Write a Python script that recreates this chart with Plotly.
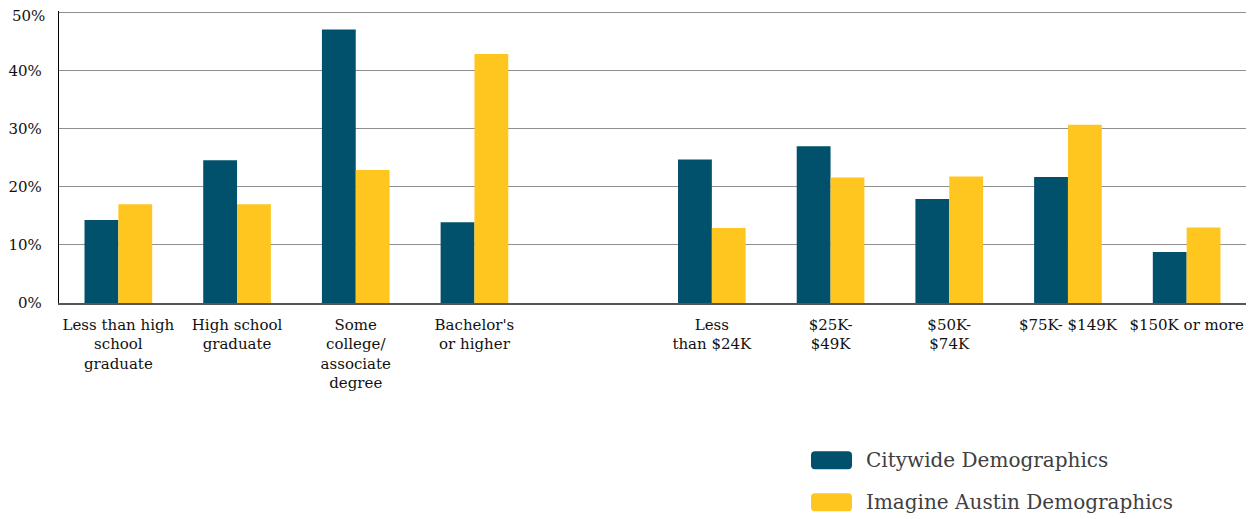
import plotly.graph_objects as go

categories = [
    "Less than high<br>school<br>graduate",
    "High school<br>graduate",
    "Some<br>college/<br>associate<br>degree",
    "Bachelor's<br>or higher",
    " ",
    "Less<br>than $24K",
    "$25K-<br>$49K",
    "$50K-<br>$74K",
    "$75K- $149K",
    "$150K or more",
]
citywide = [14.3, 24.6, 47.1, 13.9, None, 24.7, 27.0, 17.9, 21.7, 8.8]
imagine_austin = [17.0, 17.0, 22.9, 42.9, None, 12.9, 21.6, 21.8, 30.7, 13.0]
series_names = ["Citywide Demographics", "Imagine Austin Demographics"]
series_colors = ["#01506C", "#FFC61F"]
y_ticks = [0, 10, 20, 30, 40, 50]
y_tick_labels = [f"{v}%" for v in y_ticks]

FONT = "DejaVu Serif"
OFF = 8  # page body margin
Y_TOP = 50.3
PX_PER_UNIT = 290.2 / 50
W, H = 1250, 511
PW, PH = 1187, PX_PER_UNIT * Y_TOP
ML, MT = 59 - OFF, 302.7 - PH - OFF
MR, MB = W - ML - PW, H - MT - PH

fig = go.Figure()
for name, vals, col in zip(series_names, [citywide, imagine_austin], series_colors):
    fig.add_trace(go.Bar(x=categories, y=vals, name=name, marker_color=col,
                         marker_line_width=0, showlegend=False))

fig.update_layout(
    width=W, height=H,
    margin=dict(l=ML, r=MR, t=MT, b=MB, autoexpand=False),
    plot_bgcolor="white", paper_bgcolor="white",
    barmode="group", bargap=0.43, bargroupgap=0,
    font=dict(family=FONT, size=14, color="#111111"),
)
fig.update_xaxes(
    type="category", categoryorder="array", categoryarray=categories,
    showline=True, linecolor="#555555", linewidth=1.5,
    tickfont=dict(family=FONT, size=15, color="#111111"),
    ticks="", showgrid=False, automargin=False, ticklabelstandoff=7,
)
# the topmost tick label is drawn as an annotation nudged down so it stays inside the page
fig.update_yaxes(
    range=[0, Y_TOP], tickvals=y_ticks, ticktext=y_tick_labels[:-1] + [""],
    showgrid=True, gridcolor="#8f8f8f", gridwidth=1.3,
    showline=True, linecolor="#000000", linewidth=1.3,
    zeroline=False, ticks="", ticklabelstandoff=13,
    tickfont=dict(family=FONT, size=15, color="#111111"),
    automargin=False,
)
fig.add_annotation(xref="paper", yref="y", x=0, y=y_ticks[-1],
                   text=y_tick_labels[-1], showarrow=False,
                   xanchor="right", yanchor="middle", xshift=-13, yshift=-3,
                   borderpad=0, font=dict(family=FONT, size=15, color="#111111"))

def px_to_paper(px, py):
    return (px - OFF - ML) / PW, 1 - (py - OFF - MT) / PH

def rounded_rect_path(x0, y0, x1, y1, r):
    def p(x, y):
        X, Y = px_to_paper(x, y)
        return f"{X:.5f},{Y:.5f}"
    return (f"M {p(x0 + r, y0)} L {p(x1 - r, y0)} Q {p(x1, y0)} {p(x1, y0 + r)} "
            f"L {p(x1, y1 - r)} Q {p(x1, y1)} {p(x1 - r, y1)} "
            f"L {p(x0 + r, y1)} Q {p(x0, y1)} {p(x0, y1 - r)} "
            f"L {p(x0, y0 + r)} Q {p(x0, y0)} {p(x0 + r, y0)} Z")

# custom legend (page pixel positions)
legend_y = [460, 502]
for name, col, yc in zip(series_names, series_colors, legend_y):
    fig.add_shape(type="path", xref="paper", yref="paper",
                  path=rounded_rect_path(811, yc - 9, 852, yc + 9, 4),
                  fillcolor=col, line=dict(width=0))
    ax, ay = px_to_paper(864, yc)
    fig.add_annotation(xref="paper", yref="paper", x=ax, y=ay,
                       text=name, showarrow=False, xanchor="left", yanchor="middle",
                       font=dict(family=FONT, size=20, color="#404040"))

fig.write_html("out.html")
